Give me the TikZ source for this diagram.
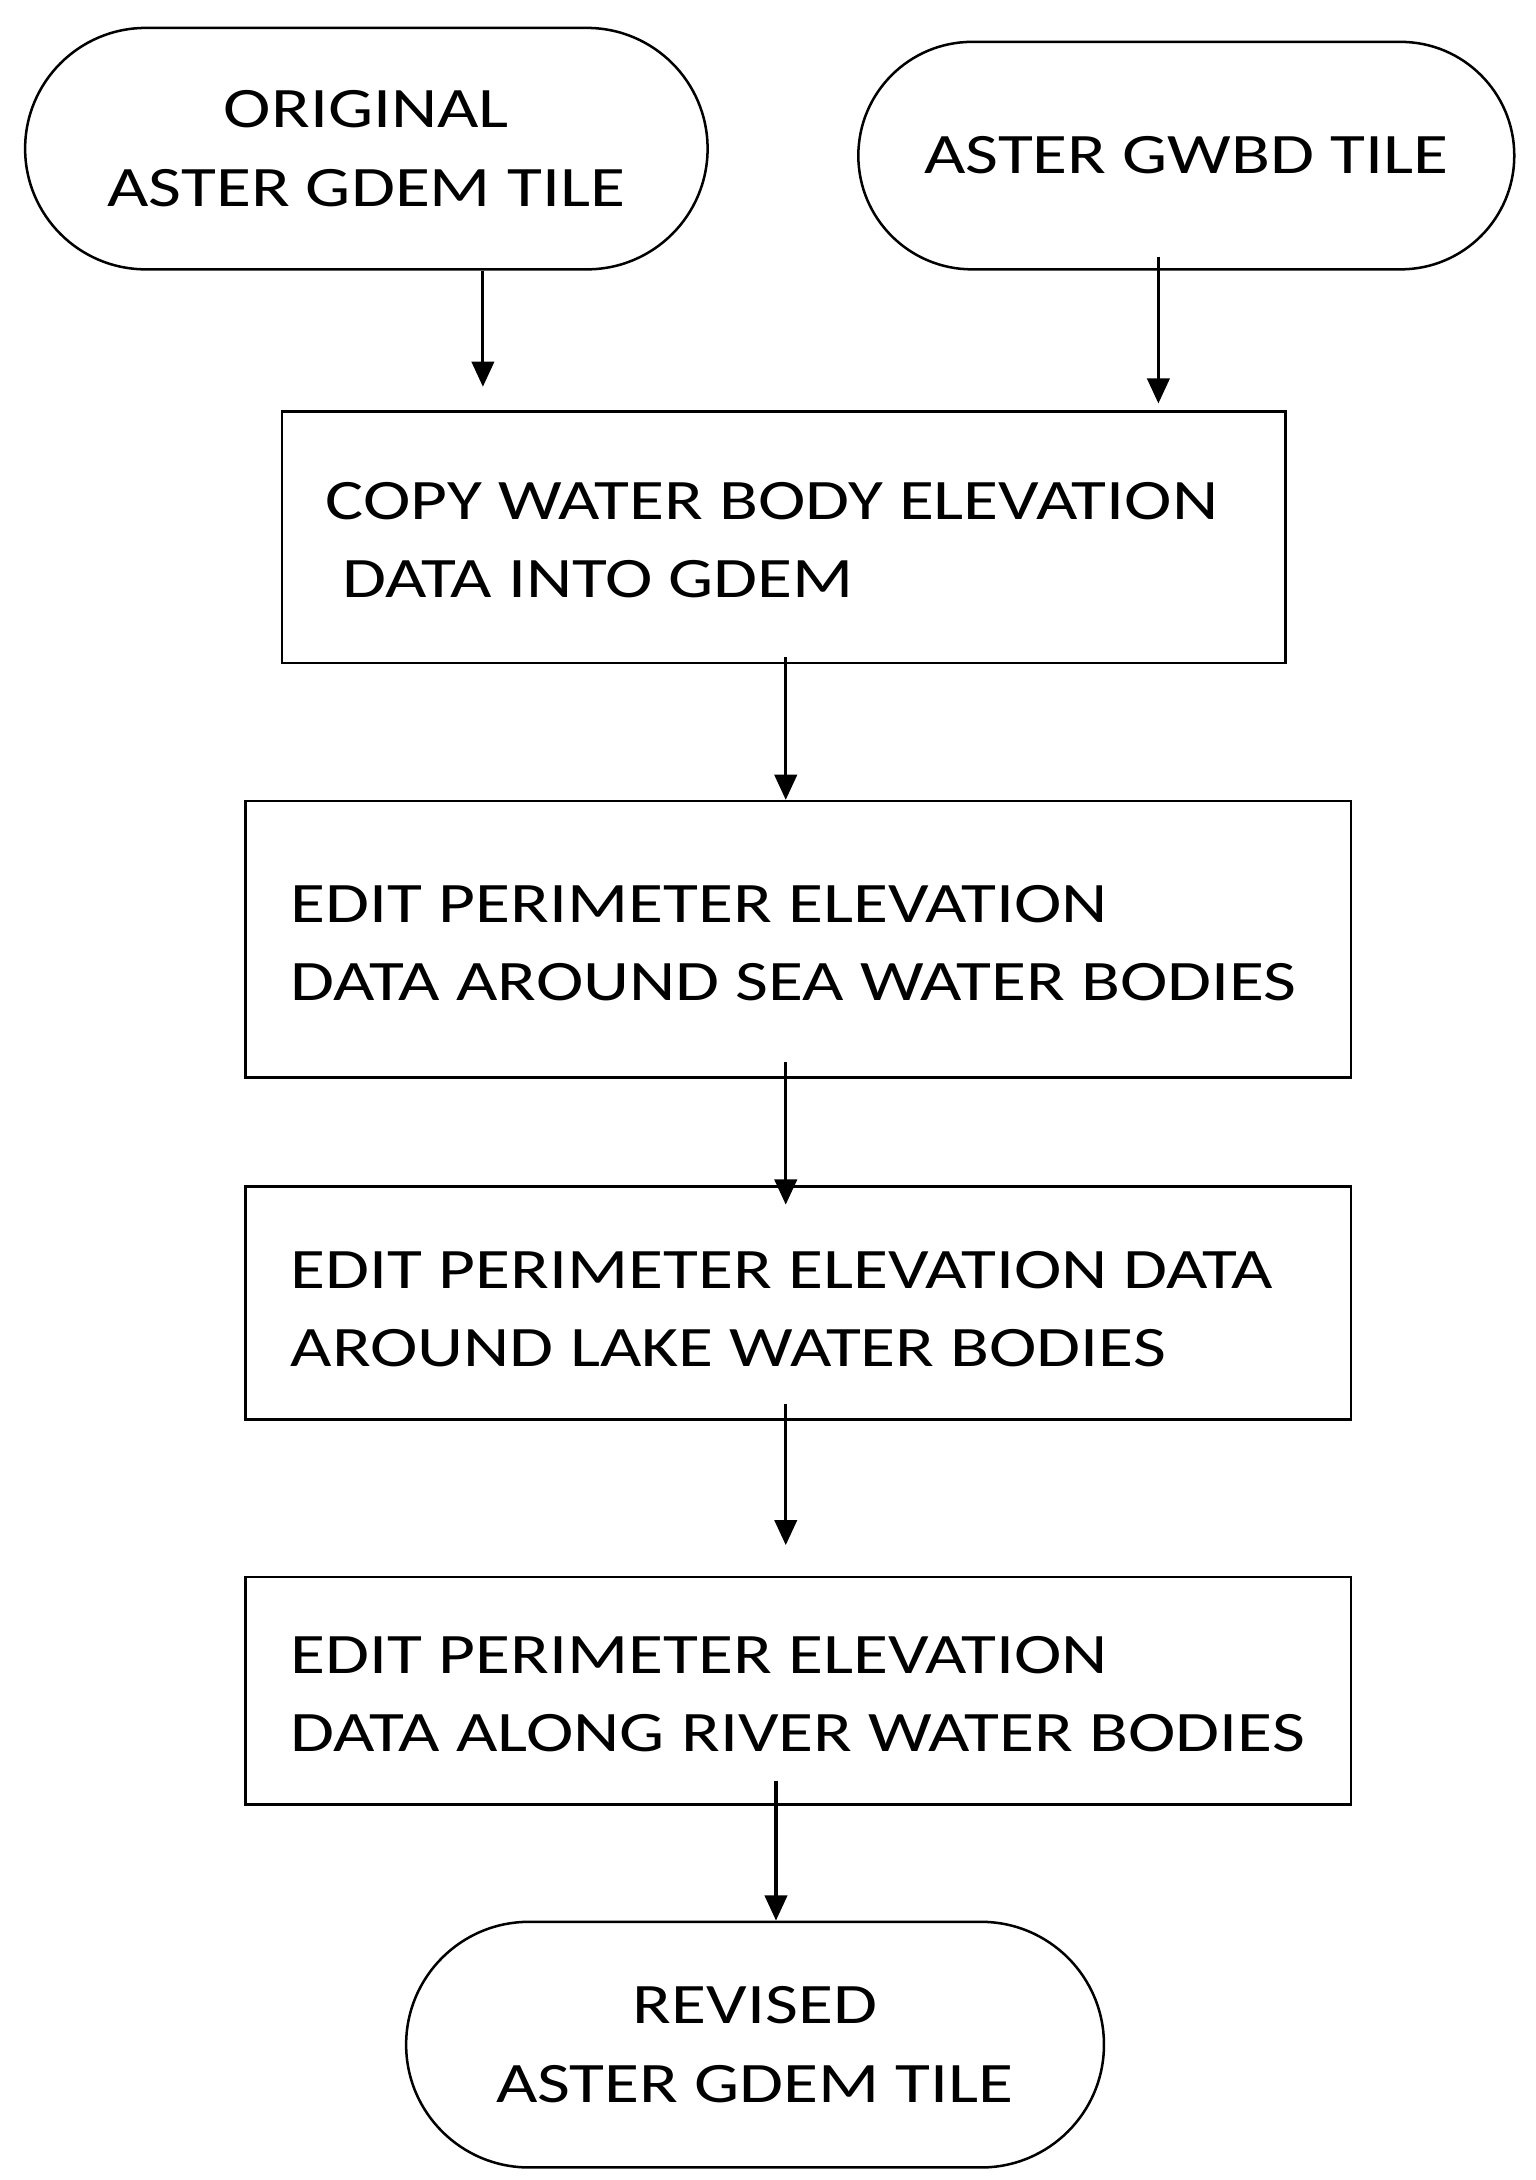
\documentclass[tikz,border=0pt]{standalone}
\usepackage{fontspec}
\usepackage{graphicx}
\setmainfont{Carlito}
\newcommand{\widetxt}[1]{\scalebox{1.25}[1]{#1}}
\usetikzlibrary{shapes.misc,arrows.meta}
\begin{document}
\begin{tikzpicture}[x=0.5pt,y=-0.5pt,
  term/.style={draw,line width=0.9pt,rounded rectangle,inner sep=0pt,align=center,font=\fontsize{20.5}{28}\selectfont},
  proc/.style={draw,line width=0.9pt,rectangle,inner sep=0pt},
  lbl/.style={anchor=west,inner sep=0pt,font=\fontsize{20.5}{28}\selectfont,align=left},
  arr/.style={-{Triangle[length=9pt,width=8pt]},line width=1.1pt}]
\useasboundingbox (0,0) rectangle (1100,1562);
\node[term,minimum width=244.5pt,minimum height=86.5pt] (s1) at (262.5,106.5) {\widetxt{ORIGINAL}\\\widetxt{ASTER GDEM TILE}};
\node[term,minimum width=235pt,minimum height=81.5pt] (s2) at (850,111.5) {\widetxt{ASTER GWBD TILE}};
\node[proc,minimum width=359.5pt,minimum height=90pt] (b1) at (561.5,385) {};
\node[lbl] (t1) at (233,387) {\widetxt{COPY WATER BODY ELEVATION}\\\hspace*{6pt}\widetxt{DATA INTO GDEM}};
\node[proc,minimum width=396pt,minimum height=99pt] (b2) at (572,673) {};
\node[lbl] (t2) at (208,676) {\widetxt{EDIT PERIMETER ELEVATION}\\\widetxt{DATA AROUND SEA WATER BODIES}};
\node[proc,minimum width=396pt,minimum height=83.5pt] (b3) at (572,933.5) {};
\node[lbl] (t3) at (208,938) {\widetxt{EDIT PERIMETER ELEVATION DATA}\\\widetxt{AROUND LAKE WATER BODIES}};
\node[proc,minimum width=396pt,minimum height=81.5pt] (b4) at (572,1211.5) {};
\node[lbl] (t4) at (208,1214) {\widetxt{EDIT PERIMETER ELEVATION}\\\widetxt{DATA ALONG RIVER WATER BODIES}};
\node[term,minimum width=250pt,minimum height=88pt] (s3) at (541,1465) {\widetxt{REVISED}\\\widetxt{ASTER GDEM TILE}};
\draw[arr,shorten >=8.5pt] (s1.south -| 346,0) -- (b1.north -| 346,0);
\draw[arr,shorten <=-5pt,shorten >=2.5pt] (s2.south -| 830,0) -- (b1.north -| 830,0);
\draw[arr,shorten <=-2.5pt] (b1.south -| 563,0) -- (b2.north -| 563,0);
\draw[arr,shorten <=-6pt,shorten >=-7pt] (b2.south -| 563,0) -- (b3.north -| 563,0);
\draw[arr,shorten <=-6pt,shorten >=11pt] (b3.south -| 563,0) -- (b4.north -| 563,0);
\draw[arr,shorten <=-9pt] (b4.south -| 556,0) -- (s3.north -| 556,0);
\end{tikzpicture}
\end{document}
